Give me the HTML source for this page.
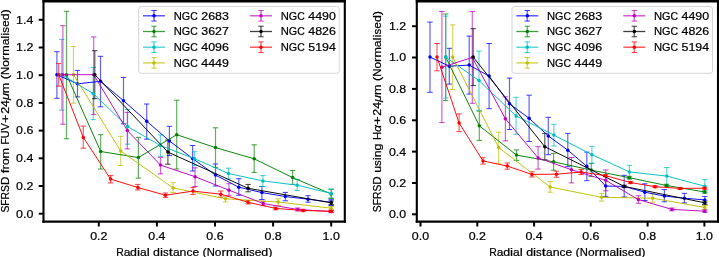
<!DOCTYPE html>
<html><head><meta charset="utf-8"><style>html,body{margin:0;padding:0;background:#fff;width:719px;height:257px;overflow:hidden}svg{display:block;will-change:transform}</style></head><body>
<svg width="719" height="257" viewBox="0 0 719 257" font-family='"Liberation Sans", sans-serif' fill="#000">
<style>text{stroke:#000;stroke-width:0.22px;}</style>
<rect width="719" height="257" fill="#fff"/>
<defs><clipPath id="cp43"><rect x="43.5" y="1.2" width="301.3" height="220.5"/></clipPath></defs>
<g clip-path="url(#cp43)">
<path d="M56.9 51.7V98.3M77.5 70.4V96.9M100.5 56.3V106.8M123.5 77.6V123.8M146.7 104.0V139.2M169.4 126.3V155.6M192.6 145.5V171.0M215.5 164.0V186.0M238.8 178.7V195.3M261.9 186.5V199.5M285.3 192.4V200.8M308.0 195.7V202.2M331.2 199.7V205.5" stroke="#0000ff" stroke-width="1.2" stroke-opacity="0.62" fill="none"/>
<path d="M54.2 51.7H59.6M54.2 98.3H59.6M74.8 70.4H80.2M74.8 96.9H80.2M97.8 56.3H103.2M97.8 106.8H103.2M120.8 77.6H126.2M120.8 123.8H126.2M144.0 104.0H149.4M144.0 139.2H149.4M166.7 126.3H172.1M166.7 155.6H172.1M189.9 145.5H195.3M189.9 171.0H195.3M212.8 164.0H218.2M212.8 186.0H218.2M236.1 178.7H241.5M236.1 195.3H241.5M259.2 186.5H264.6M259.2 199.5H264.6M282.6 192.4H288.0M282.6 200.8H288.0M305.3 195.7H310.7M305.3 202.2H310.7M328.5 199.7H333.9M328.5 205.5H333.9" stroke="#0000ff" stroke-width="1.0" stroke-opacity="0.75" fill="none"/>
<path d="M66.5 11.3V138.8M100.7 134.7V169.0M138.4 137.3V178.1M176.7 100.2V169.0M215.5 127.8V167.4M254.2 144.8V172.4M292.6 170.5V184.4M331.2 189.3V198.5" stroke="#008000" stroke-width="1.2" stroke-opacity="0.62" fill="none"/>
<path d="M63.8 11.3H69.2M63.8 138.8H69.2M98.0 134.7H103.4M98.0 169.0H103.4M135.7 137.3H141.1M135.7 178.1H141.1M174.0 100.2H179.4M174.0 169.0H179.4M212.8 127.8H218.2M212.8 167.4H218.2M251.5 144.8H256.9M251.5 172.4H256.9M289.9 170.5H295.3M289.9 184.4H295.3M328.5 189.3H333.9M328.5 198.5H333.9" stroke="#008000" stroke-width="1.0" stroke-opacity="0.75" fill="none"/>
<path d="M61.7 39.4V110.2M93.2 67.4V119.7M127.6 109.5V144.2M160.5 134.9V156.3M194.5 151.7V165.7M228.5 168.2V178.8M262.9 175.6V186.4M297.2 179.5V190.5M331.2 189.0V197.8" stroke="#00bfbf" stroke-width="1.2" stroke-opacity="0.62" fill="none"/>
<path d="M59.0 39.4H64.4M59.0 110.2H64.4M90.5 67.4H95.9M90.5 119.7H95.9M124.9 109.5H130.3M124.9 144.2H130.3M157.8 134.9H163.2M157.8 156.3H163.2M191.8 151.7H197.2M191.8 165.7H197.2M225.8 168.2H231.2M225.8 178.8H231.2M260.2 175.6H265.6M260.2 186.4H265.6M294.5 179.5H299.9M294.5 190.5H299.9M328.5 189.0H333.9M328.5 197.8H333.9" stroke="#00bfbf" stroke-width="1.0" stroke-opacity="0.75" fill="none"/>
<path d="M73.5 46.5V103.2M120.7 136.3V165.5M173.1 182.7V192.5M225.5 196.2V201.9M278.2 198.8V205.4M331.2 206.5V210.0" stroke="#bfbf00" stroke-width="1.2" stroke-opacity="0.62" fill="none"/>
<path d="M70.8 46.5H76.2M70.8 103.2H76.2M118.0 136.3H123.4M118.0 165.5H123.4M170.4 182.7H175.8M170.4 192.5H175.8M222.8 196.2H228.2M222.8 201.9H228.2M275.5 198.8H280.9M275.5 205.4H280.9M328.5 206.5H333.9M328.5 210.0H333.9" stroke="#bfbf00" stroke-width="1.0" stroke-opacity="0.75" fill="none"/>
<path d="M62.9 25.7V124.2M93.7 36.9V114.4M127.3 112.3V148.9M160.5 157.3V173.9M195.1 167.8V186.5M229.0 183.7V195.3M263.3 201.3V205.7M297.7 208.0V211.0M331.2 210.3V212.7" stroke="#bf00bf" stroke-width="1.2" stroke-opacity="0.62" fill="none"/>
<path d="M60.2 25.7H65.6M60.2 124.2H65.6M91.0 36.9H96.4M91.0 114.4H96.4M124.6 112.3H130.0M124.6 148.9H130.0M157.8 157.3H163.2M157.8 173.9H163.2M192.4 167.8H197.8M192.4 186.5H197.8M226.3 183.7H231.7M226.3 195.3H231.7M260.6 201.3H266.0M260.6 205.7H266.0M295.0 208.0H300.4M295.0 211.0H300.4M328.5 210.3H333.9M328.5 212.7H333.9" stroke="#bf00bf" stroke-width="1.0" stroke-opacity="0.75" fill="none"/>
<path d="M94.8 50.7V98.7M167.9 140.0V164.2M248.1 184.4V191.8M331.2 201.0V204.6" stroke="#000000" stroke-width="1.2" stroke-opacity="0.62" fill="none"/>
<path d="M92.1 50.7H97.5M92.1 98.7H97.5M165.2 140.0H170.6M165.2 164.2H170.6M245.4 184.4H250.8M245.4 191.8H250.8M328.5 201.0H333.9M328.5 204.6H333.9" stroke="#000000" stroke-width="1.0" stroke-opacity="0.75" fill="none"/>
<path d="M58.7 63.4V86.2M83.3 126.1V148.2M110.6 175.6V183.0M137.8 184.4V190.0M165.4 193.0V197.4M193.0 187.4V194.4M220.8 191.0V197.2M248.1 200.5V204.0M275.7 207.0V209.8M303.2 209.3V211.7M331.2 210.3V212.3" stroke="#ff0000" stroke-width="1.2" stroke-opacity="0.62" fill="none"/>
<path d="M56.0 63.4H61.4M56.0 86.2H61.4M80.6 126.1H86.0M80.6 148.2H86.0M107.9 175.6H113.3M107.9 183.0H113.3M135.1 184.4H140.5M135.1 190.0H140.5M162.7 193.0H168.1M162.7 197.4H168.1M190.3 187.4H195.7M190.3 194.4H195.7M218.1 191.0H223.5M218.1 197.2H223.5M245.4 200.5H250.8M245.4 204.0H250.8M273.0 207.0H278.4M273.0 209.8H278.4M300.5 209.3H305.9M300.5 211.7H305.9M328.5 210.3H333.9M328.5 212.3H333.9" stroke="#ff0000" stroke-width="1.0" stroke-opacity="0.75" fill="none"/>
<polyline points="56.9,74.7 77.5,83.8 100.5,81.3 123.5,100.7 146.7,121.2 169.4,140.9 192.6,158.5 215.5,175.1 238.8,187.2 261.9,192.6 285.3,196.5 308.0,199.2 331.2,202.3" stroke="#0000ff" stroke-width="0.95" fill="none" stroke-linejoin="round"/>
<circle cx="56.9" cy="74.7" r="1.75" fill="#0000ff"/>
<circle cx="77.5" cy="83.8" r="1.75" fill="#0000ff"/>
<circle cx="100.5" cy="81.3" r="1.75" fill="#0000ff"/>
<circle cx="123.5" cy="100.7" r="1.75" fill="#0000ff"/>
<circle cx="146.7" cy="121.2" r="1.75" fill="#0000ff"/>
<circle cx="169.4" cy="140.9" r="1.75" fill="#0000ff"/>
<circle cx="192.6" cy="158.5" r="1.75" fill="#0000ff"/>
<circle cx="215.5" cy="175.1" r="1.75" fill="#0000ff"/>
<circle cx="238.8" cy="187.2" r="1.75" fill="#0000ff"/>
<circle cx="261.9" cy="192.6" r="1.75" fill="#0000ff"/>
<circle cx="285.3" cy="196.5" r="1.75" fill="#0000ff"/>
<circle cx="308.0" cy="199.2" r="1.75" fill="#0000ff"/>
<circle cx="331.2" cy="202.3" r="1.75" fill="#0000ff"/>
<polyline points="66.5,74.7 100.7,151.5 138.4,157.6 176.7,134.7 215.5,147.6 254.2,158.8 292.6,177.6 331.2,194.0" stroke="#008000" stroke-width="0.95" fill="none" stroke-linejoin="round"/>
<circle cx="66.5" cy="74.7" r="1.75" fill="#008000"/>
<circle cx="100.7" cy="151.5" r="1.75" fill="#008000"/>
<circle cx="138.4" cy="157.6" r="1.75" fill="#008000"/>
<circle cx="176.7" cy="134.7" r="1.75" fill="#008000"/>
<circle cx="215.5" cy="147.6" r="1.75" fill="#008000"/>
<circle cx="254.2" cy="158.8" r="1.75" fill="#008000"/>
<circle cx="292.6" cy="177.6" r="1.75" fill="#008000"/>
<circle cx="331.2" cy="194.0" r="1.75" fill="#008000"/>
<polyline points="61.7,74.7 93.2,93.5 127.6,126.6 160.5,145.6 194.5,158.7 228.5,173.5 262.9,180.9 297.2,185.2 331.2,193.4" stroke="#00bfbf" stroke-width="0.95" fill="none" stroke-linejoin="round"/>
<circle cx="61.7" cy="74.7" r="1.75" fill="#00bfbf"/>
<circle cx="93.2" cy="93.5" r="1.75" fill="#00bfbf"/>
<circle cx="127.6" cy="126.6" r="1.75" fill="#00bfbf"/>
<circle cx="160.5" cy="145.6" r="1.75" fill="#00bfbf"/>
<circle cx="194.5" cy="158.7" r="1.75" fill="#00bfbf"/>
<circle cx="228.5" cy="173.5" r="1.75" fill="#00bfbf"/>
<circle cx="262.9" cy="180.9" r="1.75" fill="#00bfbf"/>
<circle cx="297.2" cy="185.2" r="1.75" fill="#00bfbf"/>
<circle cx="331.2" cy="193.4" r="1.75" fill="#00bfbf"/>
<polyline points="73.5,74.7 120.7,151.0 173.1,187.9 225.5,198.8 278.2,202.0 331.2,208.2" stroke="#bfbf00" stroke-width="0.95" fill="none" stroke-linejoin="round"/>
<circle cx="73.5" cy="74.7" r="1.75" fill="#bfbf00"/>
<circle cx="120.7" cy="151.0" r="1.75" fill="#bfbf00"/>
<circle cx="173.1" cy="187.9" r="1.75" fill="#bfbf00"/>
<circle cx="225.5" cy="198.8" r="1.75" fill="#bfbf00"/>
<circle cx="278.2" cy="202.0" r="1.75" fill="#bfbf00"/>
<circle cx="331.2" cy="208.2" r="1.75" fill="#bfbf00"/>
<polyline points="62.9,74.7 93.7,74.7 127.3,130.5 160.5,165.1 195.1,176.7 229.0,190.2 263.3,203.5 297.7,209.5 331.2,211.5" stroke="#bf00bf" stroke-width="0.95" fill="none" stroke-linejoin="round"/>
<circle cx="62.9" cy="74.7" r="1.75" fill="#bf00bf"/>
<circle cx="93.7" cy="74.7" r="1.75" fill="#bf00bf"/>
<circle cx="127.3" cy="130.5" r="1.75" fill="#bf00bf"/>
<circle cx="160.5" cy="165.1" r="1.75" fill="#bf00bf"/>
<circle cx="195.1" cy="176.7" r="1.75" fill="#bf00bf"/>
<circle cx="229.0" cy="190.2" r="1.75" fill="#bf00bf"/>
<circle cx="263.3" cy="203.5" r="1.75" fill="#bf00bf"/>
<circle cx="297.7" cy="209.5" r="1.75" fill="#bf00bf"/>
<circle cx="331.2" cy="211.5" r="1.75" fill="#bf00bf"/>
<polyline points="94.8,74.7 167.9,152.1 248.1,188.3 331.2,202.8" stroke="#000000" stroke-width="0.95" fill="none" stroke-linejoin="round"/>
<circle cx="94.8" cy="74.7" r="1.75" fill="#000000"/>
<circle cx="167.9" cy="152.1" r="1.75" fill="#000000"/>
<circle cx="248.1" cy="188.3" r="1.75" fill="#000000"/>
<circle cx="331.2" cy="202.8" r="1.75" fill="#000000"/>
<polyline points="58.7,74.7 83.3,137.4 110.6,179.1 137.8,187.5 165.4,195.2 193.0,191.1 220.8,194.2 248.1,202.3 275.7,208.4 303.2,210.5 331.2,211.3" stroke="#ff0000" stroke-width="0.95" fill="none" stroke-linejoin="round"/>
<circle cx="58.7" cy="74.7" r="1.75" fill="#ff0000"/>
<circle cx="83.3" cy="137.4" r="1.75" fill="#ff0000"/>
<circle cx="110.6" cy="179.1" r="1.75" fill="#ff0000"/>
<circle cx="137.8" cy="187.5" r="1.75" fill="#ff0000"/>
<circle cx="165.4" cy="195.2" r="1.75" fill="#ff0000"/>
<circle cx="193.0" cy="191.1" r="1.75" fill="#ff0000"/>
<circle cx="220.8" cy="194.2" r="1.75" fill="#ff0000"/>
<circle cx="248.1" cy="202.3" r="1.75" fill="#ff0000"/>
<circle cx="275.7" cy="208.4" r="1.75" fill="#ff0000"/>
<circle cx="303.2" cy="210.5" r="1.75" fill="#ff0000"/>
<circle cx="331.2" cy="211.3" r="1.75" fill="#ff0000"/>
</g>
<rect x="138.7" y="6.6" width="200.5" height="66.7" rx="2.5" fill="#fff" fill-opacity="0.8" stroke="#d4d4d4" stroke-width="1"/>
<path d="M143.0 15.8H165.0" stroke="#0000ff" stroke-width="1.3" stroke-opacity="0.75"/>
<path d="M154.0 10.5V21.1" stroke="#0000ff" stroke-width="1.6" stroke-opacity="0.55" fill="none"/>
<path d="M151.3 10.5H156.7M151.3 21.1H156.7" stroke="#0000ff" stroke-width="1.0" stroke-opacity="0.75" fill="none"/>
<circle cx="154.0" cy="15.8" r="1.75" fill="#0000ff"/>
<g><text transform="translate(173.70 19.70) translate(0.00 0) scale(0.969 1)" font-size="11.60">N</text><text transform="translate(173.70 19.70) translate(8.12 0) scale(0.932 1)" font-size="11.60">G</text><text transform="translate(173.70 19.70) translate(16.52 0) scale(0.904 1)" font-size="11.60">C</text><text transform="translate(173.70 19.70) translate(27.55 0) scale(1.070 1)" font-size="11.60">2</text><text transform="translate(173.70 19.70) translate(34.45 0) scale(1.070 1)" font-size="11.60">6</text><text transform="translate(173.70 19.70) translate(41.36 0) scale(1.070 1)" font-size="11.60">8</text><text transform="translate(173.70 19.70) translate(48.26 0) scale(1.070 1)" font-size="11.60">3</text></g>
<path d="M143.0 31.5H165.0" stroke="#008000" stroke-width="1.3" stroke-opacity="0.75"/>
<path d="M154.0 26.2V36.8" stroke="#008000" stroke-width="1.6" stroke-opacity="0.55" fill="none"/>
<path d="M151.3 26.2H156.7M151.3 36.8H156.7" stroke="#008000" stroke-width="1.0" stroke-opacity="0.75" fill="none"/>
<circle cx="154.0" cy="31.5" r="1.75" fill="#008000"/>
<g><text transform="translate(173.70 35.40) translate(0.00 0) scale(0.969 1)" font-size="11.60">N</text><text transform="translate(173.70 35.40) translate(8.12 0) scale(0.932 1)" font-size="11.60">G</text><text transform="translate(173.70 35.40) translate(16.52 0) scale(0.904 1)" font-size="11.60">C</text><text transform="translate(173.70 35.40) translate(27.55 0) scale(1.070 1)" font-size="11.60">3</text><text transform="translate(173.70 35.40) translate(34.45 0) scale(1.070 1)" font-size="11.60">6</text><text transform="translate(173.70 35.40) translate(41.36 0) scale(1.070 1)" font-size="11.60">2</text><text transform="translate(173.70 35.40) translate(48.26 0) scale(1.070 1)" font-size="11.60">7</text></g>
<path d="M143.0 47.2H165.0" stroke="#00bfbf" stroke-width="1.3" stroke-opacity="0.75"/>
<path d="M154.0 41.9V52.5" stroke="#00bfbf" stroke-width="1.6" stroke-opacity="0.55" fill="none"/>
<path d="M151.3 41.9H156.7M151.3 52.5H156.7" stroke="#00bfbf" stroke-width="1.0" stroke-opacity="0.75" fill="none"/>
<circle cx="154.0" cy="47.2" r="1.75" fill="#00bfbf"/>
<g><text transform="translate(173.70 51.10) translate(0.00 0) scale(0.969 1)" font-size="11.60">N</text><text transform="translate(173.70 51.10) translate(8.12 0) scale(0.932 1)" font-size="11.60">G</text><text transform="translate(173.70 51.10) translate(16.52 0) scale(0.904 1)" font-size="11.60">C</text><text transform="translate(173.70 51.10) translate(27.55 0) scale(1.070 1)" font-size="11.60">4</text><text transform="translate(173.70 51.10) translate(34.45 0) scale(1.070 1)" font-size="11.60">0</text><text transform="translate(173.70 51.10) translate(41.36 0) scale(1.070 1)" font-size="11.60">9</text><text transform="translate(173.70 51.10) translate(48.26 0) scale(1.070 1)" font-size="11.60">6</text></g>
<path d="M143.0 62.9H165.0" stroke="#bfbf00" stroke-width="1.3" stroke-opacity="0.75"/>
<path d="M154.0 57.6V68.2" stroke="#bfbf00" stroke-width="1.6" stroke-opacity="0.55" fill="none"/>
<path d="M151.3 57.6H156.7M151.3 68.2H156.7" stroke="#bfbf00" stroke-width="1.0" stroke-opacity="0.75" fill="none"/>
<circle cx="154.0" cy="62.9" r="1.75" fill="#bfbf00"/>
<g><text transform="translate(173.70 66.80) translate(0.00 0) scale(0.969 1)" font-size="11.60">N</text><text transform="translate(173.70 66.80) translate(8.12 0) scale(0.932 1)" font-size="11.60">G</text><text transform="translate(173.70 66.80) translate(16.52 0) scale(0.904 1)" font-size="11.60">C</text><text transform="translate(173.70 66.80) translate(27.55 0) scale(1.070 1)" font-size="11.60">4</text><text transform="translate(173.70 66.80) translate(34.45 0) scale(1.070 1)" font-size="11.60">4</text><text transform="translate(173.70 66.80) translate(41.36 0) scale(1.070 1)" font-size="11.60">4</text><text transform="translate(173.70 66.80) translate(48.26 0) scale(1.070 1)" font-size="11.60">9</text></g>
<path d="M250.0 15.8H272.0" stroke="#bf00bf" stroke-width="1.3" stroke-opacity="0.75"/>
<path d="M261.0 10.5V21.1" stroke="#bf00bf" stroke-width="1.6" stroke-opacity="0.55" fill="none"/>
<path d="M258.3 10.5H263.7M258.3 21.1H263.7" stroke="#bf00bf" stroke-width="1.0" stroke-opacity="0.75" fill="none"/>
<circle cx="261.0" cy="15.8" r="1.75" fill="#bf00bf"/>
<g><text transform="translate(280.70 19.70) translate(0.00 0) scale(0.969 1)" font-size="11.60">N</text><text transform="translate(280.70 19.70) translate(8.12 0) scale(0.932 1)" font-size="11.60">G</text><text transform="translate(280.70 19.70) translate(16.52 0) scale(0.904 1)" font-size="11.60">C</text><text transform="translate(280.70 19.70) translate(27.55 0) scale(1.070 1)" font-size="11.60">4</text><text transform="translate(280.70 19.70) translate(34.45 0) scale(1.070 1)" font-size="11.60">4</text><text transform="translate(280.70 19.70) translate(41.36 0) scale(1.070 1)" font-size="11.60">9</text><text transform="translate(280.70 19.70) translate(48.26 0) scale(1.070 1)" font-size="11.60">0</text></g>
<path d="M250.0 31.5H272.0" stroke="#000000" stroke-width="1.3" stroke-opacity="0.75"/>
<path d="M261.0 26.2V36.8" stroke="#000000" stroke-width="1.6" stroke-opacity="0.55" fill="none"/>
<path d="M258.3 26.2H263.7M258.3 36.8H263.7" stroke="#000000" stroke-width="1.0" stroke-opacity="0.75" fill="none"/>
<circle cx="261.0" cy="31.5" r="1.75" fill="#000000"/>
<g><text transform="translate(280.70 35.40) translate(0.00 0) scale(0.969 1)" font-size="11.60">N</text><text transform="translate(280.70 35.40) translate(8.12 0) scale(0.932 1)" font-size="11.60">G</text><text transform="translate(280.70 35.40) translate(16.52 0) scale(0.904 1)" font-size="11.60">C</text><text transform="translate(280.70 35.40) translate(27.55 0) scale(1.070 1)" font-size="11.60">4</text><text transform="translate(280.70 35.40) translate(34.45 0) scale(1.070 1)" font-size="11.60">8</text><text transform="translate(280.70 35.40) translate(41.36 0) scale(1.070 1)" font-size="11.60">2</text><text transform="translate(280.70 35.40) translate(48.26 0) scale(1.070 1)" font-size="11.60">6</text></g>
<path d="M250.0 47.2H272.0" stroke="#ff0000" stroke-width="1.3" stroke-opacity="0.75"/>
<path d="M261.0 41.9V52.5" stroke="#ff0000" stroke-width="1.6" stroke-opacity="0.55" fill="none"/>
<path d="M258.3 41.9H263.7M258.3 52.5H263.7" stroke="#ff0000" stroke-width="1.0" stroke-opacity="0.75" fill="none"/>
<circle cx="261.0" cy="47.2" r="1.75" fill="#ff0000"/>
<g><text transform="translate(280.70 51.10) translate(0.00 0) scale(0.969 1)" font-size="11.60">N</text><text transform="translate(280.70 51.10) translate(8.12 0) scale(0.932 1)" font-size="11.60">G</text><text transform="translate(280.70 51.10) translate(16.52 0) scale(0.904 1)" font-size="11.60">C</text><text transform="translate(280.70 51.10) translate(27.55 0) scale(1.070 1)" font-size="11.60">5</text><text transform="translate(280.70 51.10) translate(34.45 0) scale(1.070 1)" font-size="11.60">1</text><text transform="translate(280.70 51.10) translate(41.36 0) scale(1.070 1)" font-size="11.60">9</text><text transform="translate(280.70 51.10) translate(48.26 0) scale(1.070 1)" font-size="11.60">4</text></g>
<path d="M43.50 0V222.80M344.80 0V222.80" stroke="#000" stroke-width="2.1"/><path d="M42.45 1.2H345.85" stroke="#000" stroke-width="2.4"/><path d="M42.45 221.70H345.85" stroke="#000" stroke-width="2.2"/>
<line x1="38.7" y1="213.7" x2="43.5" y2="213.7" stroke="#000" stroke-width="2.0"/>
<g><text transform="translate(33.30 217.55) translate(-17.26 0) scale(1.070 1)" font-size="11.60">0</text><text transform="translate(33.30 217.55) translate(-10.35 0) scale(1.070 1)" font-size="11.60">.</text><text transform="translate(33.30 217.55) translate(-6.90 0) scale(1.070 1)" font-size="11.60">0</text></g>
<line x1="38.7" y1="186.0" x2="43.5" y2="186.0" stroke="#000" stroke-width="2.0"/>
<g><text transform="translate(33.30 189.86) translate(-17.26 0) scale(1.070 1)" font-size="11.60">0</text><text transform="translate(33.30 189.86) translate(-10.35 0) scale(1.070 1)" font-size="11.60">.</text><text transform="translate(33.30 189.86) translate(-6.90 0) scale(1.070 1)" font-size="11.60">2</text></g>
<line x1="38.7" y1="158.3" x2="43.5" y2="158.3" stroke="#000" stroke-width="2.0"/>
<g><text transform="translate(33.30 162.17) translate(-17.26 0) scale(1.070 1)" font-size="11.60">0</text><text transform="translate(33.30 162.17) translate(-10.35 0) scale(1.070 1)" font-size="11.60">.</text><text transform="translate(33.30 162.17) translate(-6.90 0) scale(1.070 1)" font-size="11.60">4</text></g>
<line x1="38.7" y1="130.6" x2="43.5" y2="130.6" stroke="#000" stroke-width="2.0"/>
<g><text transform="translate(33.30 134.48) translate(-17.26 0) scale(1.070 1)" font-size="11.60">0</text><text transform="translate(33.30 134.48) translate(-10.35 0) scale(1.070 1)" font-size="11.60">.</text><text transform="translate(33.30 134.48) translate(-6.90 0) scale(1.070 1)" font-size="11.60">6</text></g>
<line x1="38.7" y1="102.9" x2="43.5" y2="102.9" stroke="#000" stroke-width="2.0"/>
<g><text transform="translate(33.30 106.79) translate(-17.26 0) scale(1.070 1)" font-size="11.60">0</text><text transform="translate(33.30 106.79) translate(-10.35 0) scale(1.070 1)" font-size="11.60">.</text><text transform="translate(33.30 106.79) translate(-6.90 0) scale(1.070 1)" font-size="11.60">8</text></g>
<line x1="38.7" y1="75.2" x2="43.5" y2="75.2" stroke="#000" stroke-width="2.0"/>
<g><text transform="translate(33.30 79.10) translate(-17.26 0) scale(1.070 1)" font-size="11.60">1</text><text transform="translate(33.30 79.10) translate(-10.35 0) scale(1.070 1)" font-size="11.60">.</text><text transform="translate(33.30 79.10) translate(-6.90 0) scale(1.070 1)" font-size="11.60">0</text></g>
<line x1="38.7" y1="47.5" x2="43.5" y2="47.5" stroke="#000" stroke-width="2.0"/>
<g><text transform="translate(33.30 51.41) translate(-17.26 0) scale(1.070 1)" font-size="11.60">1</text><text transform="translate(33.30 51.41) translate(-10.35 0) scale(1.070 1)" font-size="11.60">.</text><text transform="translate(33.30 51.41) translate(-6.90 0) scale(1.070 1)" font-size="11.60">2</text></g>
<line x1="38.7" y1="19.8" x2="43.5" y2="19.8" stroke="#000" stroke-width="2.0"/>
<g><text transform="translate(33.30 23.72) translate(-17.26 0) scale(1.070 1)" font-size="11.60">1</text><text transform="translate(33.30 23.72) translate(-10.35 0) scale(1.070 1)" font-size="11.60">.</text><text transform="translate(33.30 23.72) translate(-6.90 0) scale(1.070 1)" font-size="11.60">4</text></g>
<line x1="98.8" y1="221.7" x2="98.8" y2="226.5" stroke="#000" stroke-width="2.0"/>
<g><text transform="translate(98.80 240.00) translate(-8.63 0) scale(1.070 1)" font-size="11.60">0</text><text transform="translate(98.80 240.00) translate(-1.72 0) scale(1.070 1)" font-size="11.60">.</text><text transform="translate(98.80 240.00) translate(1.72 0) scale(1.070 1)" font-size="11.60">2</text></g>
<line x1="156.9" y1="221.7" x2="156.9" y2="226.5" stroke="#000" stroke-width="2.0"/>
<g><text transform="translate(156.90 240.00) translate(-8.63 0) scale(1.070 1)" font-size="11.60">0</text><text transform="translate(156.90 240.00) translate(-1.72 0) scale(1.070 1)" font-size="11.60">.</text><text transform="translate(156.90 240.00) translate(1.72 0) scale(1.070 1)" font-size="11.60">4</text></g>
<line x1="215.0" y1="221.7" x2="215.0" y2="226.5" stroke="#000" stroke-width="2.0"/>
<g><text transform="translate(215.00 240.00) translate(-8.63 0) scale(1.070 1)" font-size="11.60">0</text><text transform="translate(215.00 240.00) translate(-1.72 0) scale(1.070 1)" font-size="11.60">.</text><text transform="translate(215.00 240.00) translate(1.72 0) scale(1.070 1)" font-size="11.60">6</text></g>
<line x1="273.1" y1="221.7" x2="273.1" y2="226.5" stroke="#000" stroke-width="2.0"/>
<g><text transform="translate(273.10 240.00) translate(-8.63 0) scale(1.070 1)" font-size="11.60">0</text><text transform="translate(273.10 240.00) translate(-1.72 0) scale(1.070 1)" font-size="11.60">.</text><text transform="translate(273.10 240.00) translate(1.72 0) scale(1.070 1)" font-size="11.60">8</text></g>
<line x1="331.2" y1="221.7" x2="331.2" y2="226.5" stroke="#000" stroke-width="2.0"/>
<g><text transform="translate(331.20 240.00) translate(-8.63 0) scale(1.070 1)" font-size="11.60">1</text><text transform="translate(331.20 240.00) translate(-1.72 0) scale(1.070 1)" font-size="11.60">.</text><text transform="translate(331.20 240.00) translate(1.72 0) scale(1.070 1)" font-size="11.60">0</text></g>
<defs><clipPath id="cp416"><rect x="416.8" y="1.2" width="301.2" height="220.5"/></clipPath></defs>
<g clip-path="url(#cp416)">
<path d="M430.0 22.1V92.3M449.3 48.3V84.1M469.2 36.1V94.1M489.1 43.5V108.7M509.5 78.1V129.5M529.1 95.2V141.5M548.3 117.3V154.7M567.8 133.4V166.7M586.8 152.1V180.7M605.7 176.5V196.4M624.2 175.3V197.0M644.8 183.8V200.5M664.4 189.6V201.8M684.4 193.3V202.9M704.8 196.4V202.9" stroke="#0000ff" stroke-width="1.2" stroke-opacity="0.62" fill="none"/>
<path d="M427.3 22.1H432.7M427.3 92.3H432.7M446.6 48.3H452.0M446.6 84.1H452.0M466.5 36.1H471.9M466.5 94.1H471.9M486.4 43.5H491.8M486.4 108.7H491.8M506.8 78.1H512.2M506.8 129.5H512.2M526.4 95.2H531.8M526.4 141.5H531.8M545.6 117.3H551.0M545.6 154.7H551.0M565.1 133.4H570.5M565.1 166.7H570.5M584.1 152.1H589.5M584.1 180.7H589.5M603.0 176.5H608.4M603.0 196.4H608.4M621.5 175.3H626.9M621.5 197.0H626.9M642.1 183.8H647.5M642.1 200.5H647.5M661.7 189.6H667.1M661.7 201.8H667.1M681.7 193.3H687.1M681.7 202.9H687.1M702.1 196.4H707.5M702.1 202.9H707.5" stroke="#0000ff" stroke-width="1.0" stroke-opacity="0.75" fill="none"/>
<path d="M445.7 14.0V100.6M479.3 111.1V140.4M516.5 149.9V160.4M553.6 153.3V170.2M591.3 163.6V176.6M629.3 176.3V179.1M666.6 184.2V186.8M704.8 190.8V193.2" stroke="#008000" stroke-width="1.2" stroke-opacity="0.62" fill="none"/>
<path d="M443.0 14.0H448.4M443.0 100.6H448.4M476.6 111.1H482.0M476.6 140.4H482.0M513.8 149.9H519.2M513.8 160.4H519.2M550.9 153.3H556.3M550.9 170.2H556.3M588.6 163.6H594.0M588.6 176.6H594.0M626.6 176.3H632.0M626.6 179.1H632.0M663.9 184.2H669.3M663.9 186.8H669.3M702.1 190.8H707.5M702.1 193.2H707.5" stroke="#008000" stroke-width="1.0" stroke-opacity="0.75" fill="none"/>
<path d="M445.7 16.1V98.1M479.0 51.1V110.4M516.1 97.3V134.3M553.9 124.3V146.0M591.9 146.3V163.1M629.4 165.3V178.3M666.8 167.5V185.5M704.8 179.6V192.8" stroke="#00bfbf" stroke-width="1.2" stroke-opacity="0.62" fill="none"/>
<path d="M443.0 16.1H448.4M443.0 98.1H448.4M476.3 51.1H481.7M476.3 110.4H481.7M513.4 97.3H518.8M513.4 134.3H518.8M551.2 124.3H556.6M551.2 146.0H556.6M589.2 146.3H594.6M589.2 163.1H594.6M626.7 165.3H632.1M626.7 178.3H632.1M664.1 167.5H669.5M664.1 185.5H669.5M702.1 179.6H707.5M702.1 192.8H707.5" stroke="#00bfbf" stroke-width="1.0" stroke-opacity="0.75" fill="none"/>
<path d="M452.7 24.9V89.5M498.6 132.1V163.3M550.1 181.6V192.2M601.6 193.3V201.1M652.7 193.7V202.2M704.8 205.5V209.5" stroke="#bfbf00" stroke-width="1.2" stroke-opacity="0.62" fill="none"/>
<path d="M450.0 24.9H455.4M450.0 89.5H455.4M495.9 132.1H501.3M495.9 163.3H501.3M547.4 181.6H552.8M547.4 192.2H552.8M598.9 193.3H604.3M598.9 201.1H604.3M650.0 193.7H655.4M650.0 202.2H655.4M702.1 205.5H707.5M702.1 209.5H707.5" stroke="#bfbf00" stroke-width="1.0" stroke-opacity="0.75" fill="none"/>
<path d="M441.9 11.5V122.6M472.3 11.5V103.3M505.4 96.9V140.9M538.1 146.7V169.1M571.5 157.5V182.9M605.7 170.0V190.8M638.4 195.7V203.3M671.9 208.0V210.8M704.8 210.0V212.4" stroke="#bf00bf" stroke-width="1.2" stroke-opacity="0.62" fill="none"/>
<path d="M439.2 11.5H444.6M439.2 122.6H444.6M469.6 11.5H475.0M469.6 103.3H475.0M502.7 96.9H508.1M502.7 140.9H508.1M535.4 146.7H540.8M535.4 169.1H540.8M568.8 157.5H574.2M568.8 182.9H574.2M603.0 170.0H608.4M603.0 190.8H608.4M635.7 195.7H641.1M635.7 203.3H641.1M669.2 208.0H674.6M669.2 210.8H674.6M702.1 210.0H707.5M702.1 212.4H707.5" stroke="#bf00bf" stroke-width="1.0" stroke-opacity="0.75" fill="none"/>
<path d="M473.2 28.7V85.6M544.8 133.4V159.8M624.2 185.2V187.6M704.8 201.0V204.6" stroke="#000000" stroke-width="1.2" stroke-opacity="0.62" fill="none"/>
<path d="M470.5 28.7H475.9M470.5 85.6H475.9M542.1 133.4H547.5M542.1 159.8H547.5M621.5 185.2H626.9M621.5 187.6H626.9M702.1 201.0H707.5M702.1 204.6H707.5" stroke="#000000" stroke-width="1.0" stroke-opacity="0.75" fill="none"/>
<path d="M437.0 43.5V70.8M459.1 113.9V131.6M483.0 157.7V164.1M507.3 163.0V169.2M531.9 171.8V177.0M556.4 171.2V177.2M581.1 169.4V174.6M605.6 174.6V176.8M630.5 181.4V183.6M655.0 185.7V187.7M680.0 187.4V189.4M704.8 187.2V189.2" stroke="#ff0000" stroke-width="1.2" stroke-opacity="0.62" fill="none"/>
<path d="M434.3 43.5H439.7M434.3 70.8H439.7M456.4 113.9H461.8M456.4 131.6H461.8M480.3 157.7H485.7M480.3 164.1H485.7M504.6 163.0H510.0M504.6 169.2H510.0M529.2 171.8H534.6M529.2 177.0H534.6M553.7 171.2H559.1M553.7 177.2H559.1M578.4 169.4H583.8M578.4 174.6H583.8M602.9 174.6H608.3M602.9 176.8H608.3M627.8 181.4H633.2M627.8 183.6H633.2M652.3 185.7H657.7M652.3 187.7H657.7M677.3 187.4H682.7M677.3 189.4H682.7M702.1 187.2H707.5M702.1 189.2H707.5" stroke="#ff0000" stroke-width="1.0" stroke-opacity="0.75" fill="none"/>
<polyline points="430.0,57.1 449.3,66.2 469.2,65.1 489.1,76.1 509.5,103.8 529.1,118.3 548.3,135.9 567.8,150.2 586.8,166.3 605.7,186.0 624.2,186.4 644.8,192.2 664.4,196.1 684.4,198.2 704.8,199.9" stroke="#0000ff" stroke-width="0.95" fill="none" stroke-linejoin="round"/>
<circle cx="430.0" cy="57.1" r="1.75" fill="#0000ff"/>
<circle cx="449.3" cy="66.2" r="1.75" fill="#0000ff"/>
<circle cx="469.2" cy="65.1" r="1.75" fill="#0000ff"/>
<circle cx="489.1" cy="76.1" r="1.75" fill="#0000ff"/>
<circle cx="509.5" cy="103.8" r="1.75" fill="#0000ff"/>
<circle cx="529.1" cy="118.3" r="1.75" fill="#0000ff"/>
<circle cx="548.3" cy="135.9" r="1.75" fill="#0000ff"/>
<circle cx="567.8" cy="150.2" r="1.75" fill="#0000ff"/>
<circle cx="586.8" cy="166.3" r="1.75" fill="#0000ff"/>
<circle cx="605.7" cy="186.0" r="1.75" fill="#0000ff"/>
<circle cx="624.2" cy="186.4" r="1.75" fill="#0000ff"/>
<circle cx="644.8" cy="192.2" r="1.75" fill="#0000ff"/>
<circle cx="664.4" cy="196.1" r="1.75" fill="#0000ff"/>
<circle cx="684.4" cy="198.2" r="1.75" fill="#0000ff"/>
<circle cx="704.8" cy="199.9" r="1.75" fill="#0000ff"/>
<polyline points="445.7,57.1 479.3,125.8 516.5,155.1 553.6,161.8 591.3,170.1 629.3,177.7 666.6,185.5 704.8,192.0" stroke="#008000" stroke-width="0.95" fill="none" stroke-linejoin="round"/>
<circle cx="445.7" cy="57.1" r="1.75" fill="#008000"/>
<circle cx="479.3" cy="125.8" r="1.75" fill="#008000"/>
<circle cx="516.5" cy="155.1" r="1.75" fill="#008000"/>
<circle cx="553.6" cy="161.8" r="1.75" fill="#008000"/>
<circle cx="591.3" cy="170.1" r="1.75" fill="#008000"/>
<circle cx="629.3" cy="177.7" r="1.75" fill="#008000"/>
<circle cx="666.6" cy="185.5" r="1.75" fill="#008000"/>
<circle cx="704.8" cy="192.0" r="1.75" fill="#008000"/>
<polyline points="445.7,57.1 479.0,80.6 516.1,115.9 553.9,135.1 591.9,154.7 629.4,171.9 666.8,176.1 704.8,186.2" stroke="#00bfbf" stroke-width="0.95" fill="none" stroke-linejoin="round"/>
<circle cx="445.7" cy="57.1" r="1.75" fill="#00bfbf"/>
<circle cx="479.0" cy="80.6" r="1.75" fill="#00bfbf"/>
<circle cx="516.1" cy="115.9" r="1.75" fill="#00bfbf"/>
<circle cx="553.9" cy="135.1" r="1.75" fill="#00bfbf"/>
<circle cx="591.9" cy="154.7" r="1.75" fill="#00bfbf"/>
<circle cx="629.4" cy="171.9" r="1.75" fill="#00bfbf"/>
<circle cx="666.8" cy="176.1" r="1.75" fill="#00bfbf"/>
<circle cx="704.8" cy="186.2" r="1.75" fill="#00bfbf"/>
<polyline points="452.7,57.1 498.6,147.5 550.1,187.0 601.6,197.3 652.7,198.2 704.8,207.5" stroke="#bfbf00" stroke-width="0.95" fill="none" stroke-linejoin="round"/>
<circle cx="452.7" cy="57.1" r="1.75" fill="#bfbf00"/>
<circle cx="498.6" cy="147.5" r="1.75" fill="#bfbf00"/>
<circle cx="550.1" cy="187.0" r="1.75" fill="#bfbf00"/>
<circle cx="601.6" cy="197.3" r="1.75" fill="#bfbf00"/>
<circle cx="652.7" cy="198.2" r="1.75" fill="#bfbf00"/>
<circle cx="704.8" cy="207.5" r="1.75" fill="#bfbf00"/>
<polyline points="441.9,67.2 472.3,57.5 505.4,118.8 538.1,157.9 571.5,169.8 605.7,180.3 638.4,199.6 671.9,209.4 704.8,211.2" stroke="#bf00bf" stroke-width="0.95" fill="none" stroke-linejoin="round"/>
<circle cx="441.9" cy="67.2" r="1.75" fill="#bf00bf"/>
<circle cx="472.3" cy="57.5" r="1.75" fill="#bf00bf"/>
<circle cx="505.4" cy="118.8" r="1.75" fill="#bf00bf"/>
<circle cx="538.1" cy="157.9" r="1.75" fill="#bf00bf"/>
<circle cx="571.5" cy="169.8" r="1.75" fill="#bf00bf"/>
<circle cx="605.7" cy="180.3" r="1.75" fill="#bf00bf"/>
<circle cx="638.4" cy="199.6" r="1.75" fill="#bf00bf"/>
<circle cx="671.9" cy="209.4" r="1.75" fill="#bf00bf"/>
<circle cx="704.8" cy="211.2" r="1.75" fill="#bf00bf"/>
<polyline points="473.2,57.1 544.8,146.7 624.2,186.4 704.8,202.8" stroke="#000000" stroke-width="0.95" fill="none" stroke-linejoin="round"/>
<circle cx="473.2" cy="57.1" r="1.75" fill="#000000"/>
<circle cx="544.8" cy="146.7" r="1.75" fill="#000000"/>
<circle cx="624.2" cy="186.4" r="1.75" fill="#000000"/>
<circle cx="704.8" cy="202.8" r="1.75" fill="#000000"/>
<polyline points="437.0,57.1 459.1,123.0 483.0,160.9 507.3,166.1 531.9,174.4 556.4,174.2 581.1,172.0 605.6,175.7 630.5,182.5 655.0,186.7 680.0,188.4 704.8,188.2" stroke="#ff0000" stroke-width="0.95" fill="none" stroke-linejoin="round"/>
<circle cx="437.0" cy="57.1" r="1.75" fill="#ff0000"/>
<circle cx="459.1" cy="123.0" r="1.75" fill="#ff0000"/>
<circle cx="483.0" cy="160.9" r="1.75" fill="#ff0000"/>
<circle cx="507.3" cy="166.1" r="1.75" fill="#ff0000"/>
<circle cx="531.9" cy="174.4" r="1.75" fill="#ff0000"/>
<circle cx="556.4" cy="174.2" r="1.75" fill="#ff0000"/>
<circle cx="581.1" cy="172.0" r="1.75" fill="#ff0000"/>
<circle cx="605.6" cy="175.7" r="1.75" fill="#ff0000"/>
<circle cx="630.5" cy="182.5" r="1.75" fill="#ff0000"/>
<circle cx="655.0" cy="186.7" r="1.75" fill="#ff0000"/>
<circle cx="680.0" cy="188.4" r="1.75" fill="#ff0000"/>
<circle cx="704.8" cy="188.2" r="1.75" fill="#ff0000"/>
</g>
<rect x="512.0" y="6.6" width="200.5" height="66.7" rx="2.5" fill="#fff" fill-opacity="0.8" stroke="#d4d4d4" stroke-width="1"/>
<path d="M516.3 15.8H538.3" stroke="#0000ff" stroke-width="1.3" stroke-opacity="0.75"/>
<path d="M527.3 10.5V21.1" stroke="#0000ff" stroke-width="1.6" stroke-opacity="0.55" fill="none"/>
<path d="M524.6 10.5H530.0M524.6 21.1H530.0" stroke="#0000ff" stroke-width="1.0" stroke-opacity="0.75" fill="none"/>
<circle cx="527.3" cy="15.8" r="1.75" fill="#0000ff"/>
<g><text transform="translate(547.00 19.70) translate(0.00 0) scale(0.969 1)" font-size="11.60">N</text><text transform="translate(547.00 19.70) translate(8.12 0) scale(0.932 1)" font-size="11.60">G</text><text transform="translate(547.00 19.70) translate(16.52 0) scale(0.904 1)" font-size="11.60">C</text><text transform="translate(547.00 19.70) translate(27.55 0) scale(1.070 1)" font-size="11.60">2</text><text transform="translate(547.00 19.70) translate(34.45 0) scale(1.070 1)" font-size="11.60">6</text><text transform="translate(547.00 19.70) translate(41.36 0) scale(1.070 1)" font-size="11.60">8</text><text transform="translate(547.00 19.70) translate(48.26 0) scale(1.070 1)" font-size="11.60">3</text></g>
<path d="M516.3 31.5H538.3" stroke="#008000" stroke-width="1.3" stroke-opacity="0.75"/>
<path d="M527.3 26.2V36.8" stroke="#008000" stroke-width="1.6" stroke-opacity="0.55" fill="none"/>
<path d="M524.6 26.2H530.0M524.6 36.8H530.0" stroke="#008000" stroke-width="1.0" stroke-opacity="0.75" fill="none"/>
<circle cx="527.3" cy="31.5" r="1.75" fill="#008000"/>
<g><text transform="translate(547.00 35.40) translate(0.00 0) scale(0.969 1)" font-size="11.60">N</text><text transform="translate(547.00 35.40) translate(8.12 0) scale(0.932 1)" font-size="11.60">G</text><text transform="translate(547.00 35.40) translate(16.52 0) scale(0.904 1)" font-size="11.60">C</text><text transform="translate(547.00 35.40) translate(27.55 0) scale(1.070 1)" font-size="11.60">3</text><text transform="translate(547.00 35.40) translate(34.45 0) scale(1.070 1)" font-size="11.60">6</text><text transform="translate(547.00 35.40) translate(41.36 0) scale(1.070 1)" font-size="11.60">2</text><text transform="translate(547.00 35.40) translate(48.26 0) scale(1.070 1)" font-size="11.60">7</text></g>
<path d="M516.3 47.2H538.3" stroke="#00bfbf" stroke-width="1.3" stroke-opacity="0.75"/>
<path d="M527.3 41.9V52.5" stroke="#00bfbf" stroke-width="1.6" stroke-opacity="0.55" fill="none"/>
<path d="M524.6 41.9H530.0M524.6 52.5H530.0" stroke="#00bfbf" stroke-width="1.0" stroke-opacity="0.75" fill="none"/>
<circle cx="527.3" cy="47.2" r="1.75" fill="#00bfbf"/>
<g><text transform="translate(547.00 51.10) translate(0.00 0) scale(0.969 1)" font-size="11.60">N</text><text transform="translate(547.00 51.10) translate(8.12 0) scale(0.932 1)" font-size="11.60">G</text><text transform="translate(547.00 51.10) translate(16.52 0) scale(0.904 1)" font-size="11.60">C</text><text transform="translate(547.00 51.10) translate(27.55 0) scale(1.070 1)" font-size="11.60">4</text><text transform="translate(547.00 51.10) translate(34.45 0) scale(1.070 1)" font-size="11.60">0</text><text transform="translate(547.00 51.10) translate(41.36 0) scale(1.070 1)" font-size="11.60">9</text><text transform="translate(547.00 51.10) translate(48.26 0) scale(1.070 1)" font-size="11.60">6</text></g>
<path d="M516.3 62.9H538.3" stroke="#bfbf00" stroke-width="1.3" stroke-opacity="0.75"/>
<path d="M527.3 57.6V68.2" stroke="#bfbf00" stroke-width="1.6" stroke-opacity="0.55" fill="none"/>
<path d="M524.6 57.6H530.0M524.6 68.2H530.0" stroke="#bfbf00" stroke-width="1.0" stroke-opacity="0.75" fill="none"/>
<circle cx="527.3" cy="62.9" r="1.75" fill="#bfbf00"/>
<g><text transform="translate(547.00 66.80) translate(0.00 0) scale(0.969 1)" font-size="11.60">N</text><text transform="translate(547.00 66.80) translate(8.12 0) scale(0.932 1)" font-size="11.60">G</text><text transform="translate(547.00 66.80) translate(16.52 0) scale(0.904 1)" font-size="11.60">C</text><text transform="translate(547.00 66.80) translate(27.55 0) scale(1.070 1)" font-size="11.60">4</text><text transform="translate(547.00 66.80) translate(34.45 0) scale(1.070 1)" font-size="11.60">4</text><text transform="translate(547.00 66.80) translate(41.36 0) scale(1.070 1)" font-size="11.60">4</text><text transform="translate(547.00 66.80) translate(48.26 0) scale(1.070 1)" font-size="11.60">9</text></g>
<path d="M623.3 15.8H645.3" stroke="#bf00bf" stroke-width="1.3" stroke-opacity="0.75"/>
<path d="M634.3 10.5V21.1" stroke="#bf00bf" stroke-width="1.6" stroke-opacity="0.55" fill="none"/>
<path d="M631.6 10.5H637.0M631.6 21.1H637.0" stroke="#bf00bf" stroke-width="1.0" stroke-opacity="0.75" fill="none"/>
<circle cx="634.3" cy="15.8" r="1.75" fill="#bf00bf"/>
<g><text transform="translate(654.00 19.70) translate(0.00 0) scale(0.969 1)" font-size="11.60">N</text><text transform="translate(654.00 19.70) translate(8.12 0) scale(0.932 1)" font-size="11.60">G</text><text transform="translate(654.00 19.70) translate(16.52 0) scale(0.904 1)" font-size="11.60">C</text><text transform="translate(654.00 19.70) translate(27.55 0) scale(1.070 1)" font-size="11.60">4</text><text transform="translate(654.00 19.70) translate(34.45 0) scale(1.070 1)" font-size="11.60">4</text><text transform="translate(654.00 19.70) translate(41.36 0) scale(1.070 1)" font-size="11.60">9</text><text transform="translate(654.00 19.70) translate(48.26 0) scale(1.070 1)" font-size="11.60">0</text></g>
<path d="M623.3 31.5H645.3" stroke="#000000" stroke-width="1.3" stroke-opacity="0.75"/>
<path d="M634.3 26.2V36.8" stroke="#000000" stroke-width="1.6" stroke-opacity="0.55" fill="none"/>
<path d="M631.6 26.2H637.0M631.6 36.8H637.0" stroke="#000000" stroke-width="1.0" stroke-opacity="0.75" fill="none"/>
<circle cx="634.3" cy="31.5" r="1.75" fill="#000000"/>
<g><text transform="translate(654.00 35.40) translate(0.00 0) scale(0.969 1)" font-size="11.60">N</text><text transform="translate(654.00 35.40) translate(8.12 0) scale(0.932 1)" font-size="11.60">G</text><text transform="translate(654.00 35.40) translate(16.52 0) scale(0.904 1)" font-size="11.60">C</text><text transform="translate(654.00 35.40) translate(27.55 0) scale(1.070 1)" font-size="11.60">4</text><text transform="translate(654.00 35.40) translate(34.45 0) scale(1.070 1)" font-size="11.60">8</text><text transform="translate(654.00 35.40) translate(41.36 0) scale(1.070 1)" font-size="11.60">2</text><text transform="translate(654.00 35.40) translate(48.26 0) scale(1.070 1)" font-size="11.60">6</text></g>
<path d="M623.3 47.2H645.3" stroke="#ff0000" stroke-width="1.3" stroke-opacity="0.75"/>
<path d="M634.3 41.9V52.5" stroke="#ff0000" stroke-width="1.6" stroke-opacity="0.55" fill="none"/>
<path d="M631.6 41.9H637.0M631.6 52.5H637.0" stroke="#ff0000" stroke-width="1.0" stroke-opacity="0.75" fill="none"/>
<circle cx="634.3" cy="47.2" r="1.75" fill="#ff0000"/>
<g><text transform="translate(654.00 51.10) translate(0.00 0) scale(0.969 1)" font-size="11.60">N</text><text transform="translate(654.00 51.10) translate(8.12 0) scale(0.932 1)" font-size="11.60">G</text><text transform="translate(654.00 51.10) translate(16.52 0) scale(0.904 1)" font-size="11.60">C</text><text transform="translate(654.00 51.10) translate(27.55 0) scale(1.070 1)" font-size="11.60">5</text><text transform="translate(654.00 51.10) translate(34.45 0) scale(1.070 1)" font-size="11.60">1</text><text transform="translate(654.00 51.10) translate(41.36 0) scale(1.070 1)" font-size="11.60">9</text><text transform="translate(654.00 51.10) translate(48.26 0) scale(1.070 1)" font-size="11.60">4</text></g>
<path d="M416.80 0V222.80M718.00 0V222.80" stroke="#000" stroke-width="2.1"/><path d="M415.75 1.2H719.05" stroke="#000" stroke-width="2.4"/><path d="M415.75 221.70H719.05" stroke="#000" stroke-width="2.2"/>
<line x1="412.0" y1="214.3" x2="416.8" y2="214.3" stroke="#000" stroke-width="2.0"/>
<g><text transform="translate(406.20 218.25) translate(-17.26 0) scale(1.070 1)" font-size="11.60">0</text><text transform="translate(406.20 218.25) translate(-10.35 0) scale(1.070 1)" font-size="11.60">.</text><text transform="translate(406.20 218.25) translate(-6.90 0) scale(1.070 1)" font-size="11.60">0</text></g>
<line x1="412.0" y1="183.0" x2="416.8" y2="183.0" stroke="#000" stroke-width="2.0"/>
<g><text transform="translate(406.20 186.89) translate(-17.26 0) scale(1.070 1)" font-size="11.60">0</text><text transform="translate(406.20 186.89) translate(-10.35 0) scale(1.070 1)" font-size="11.60">.</text><text transform="translate(406.20 186.89) translate(-6.90 0) scale(1.070 1)" font-size="11.60">2</text></g>
<line x1="412.0" y1="151.6" x2="416.8" y2="151.6" stroke="#000" stroke-width="2.0"/>
<g><text transform="translate(406.20 155.53) translate(-17.26 0) scale(1.070 1)" font-size="11.60">0</text><text transform="translate(406.20 155.53) translate(-10.35 0) scale(1.070 1)" font-size="11.60">.</text><text transform="translate(406.20 155.53) translate(-6.90 0) scale(1.070 1)" font-size="11.60">4</text></g>
<line x1="412.0" y1="120.3" x2="416.8" y2="120.3" stroke="#000" stroke-width="2.0"/>
<g><text transform="translate(406.20 124.17) translate(-17.26 0) scale(1.070 1)" font-size="11.60">0</text><text transform="translate(406.20 124.17) translate(-10.35 0) scale(1.070 1)" font-size="11.60">.</text><text transform="translate(406.20 124.17) translate(-6.90 0) scale(1.070 1)" font-size="11.60">6</text></g>
<line x1="412.0" y1="88.9" x2="416.8" y2="88.9" stroke="#000" stroke-width="2.0"/>
<g><text transform="translate(406.20 92.81) translate(-17.26 0) scale(1.070 1)" font-size="11.60">0</text><text transform="translate(406.20 92.81) translate(-10.35 0) scale(1.070 1)" font-size="11.60">.</text><text transform="translate(406.20 92.81) translate(-6.90 0) scale(1.070 1)" font-size="11.60">8</text></g>
<line x1="412.0" y1="57.5" x2="416.8" y2="57.5" stroke="#000" stroke-width="2.0"/>
<g><text transform="translate(406.20 61.45) translate(-17.26 0) scale(1.070 1)" font-size="11.60">1</text><text transform="translate(406.20 61.45) translate(-10.35 0) scale(1.070 1)" font-size="11.60">.</text><text transform="translate(406.20 61.45) translate(-6.90 0) scale(1.070 1)" font-size="11.60">0</text></g>
<line x1="412.0" y1="26.2" x2="416.8" y2="26.2" stroke="#000" stroke-width="2.0"/>
<g><text transform="translate(406.20 30.09) translate(-17.26 0) scale(1.070 1)" font-size="11.60">1</text><text transform="translate(406.20 30.09) translate(-10.35 0) scale(1.070 1)" font-size="11.60">.</text><text transform="translate(406.20 30.09) translate(-6.90 0) scale(1.070 1)" font-size="11.60">2</text></g>
<line x1="420.5" y1="221.7" x2="420.5" y2="226.5" stroke="#000" stroke-width="2.0"/>
<g><text transform="translate(420.50 240.00) translate(-8.63 0) scale(1.070 1)" font-size="11.60">0</text><text transform="translate(420.50 240.00) translate(-1.72 0) scale(1.070 1)" font-size="11.60">.</text><text transform="translate(420.50 240.00) translate(1.72 0) scale(1.070 1)" font-size="11.60">0</text></g>
<line x1="477.3" y1="221.7" x2="477.3" y2="226.5" stroke="#000" stroke-width="2.0"/>
<g><text transform="translate(477.28 240.00) translate(-8.63 0) scale(1.070 1)" font-size="11.60">0</text><text transform="translate(477.28 240.00) translate(-1.72 0) scale(1.070 1)" font-size="11.60">.</text><text transform="translate(477.28 240.00) translate(1.72 0) scale(1.070 1)" font-size="11.60">2</text></g>
<line x1="534.1" y1="221.7" x2="534.1" y2="226.5" stroke="#000" stroke-width="2.0"/>
<g><text transform="translate(534.06 240.00) translate(-8.63 0) scale(1.070 1)" font-size="11.60">0</text><text transform="translate(534.06 240.00) translate(-1.72 0) scale(1.070 1)" font-size="11.60">.</text><text transform="translate(534.06 240.00) translate(1.72 0) scale(1.070 1)" font-size="11.60">4</text></g>
<line x1="590.8" y1="221.7" x2="590.8" y2="226.5" stroke="#000" stroke-width="2.0"/>
<g><text transform="translate(590.84 240.00) translate(-8.63 0) scale(1.070 1)" font-size="11.60">0</text><text transform="translate(590.84 240.00) translate(-1.72 0) scale(1.070 1)" font-size="11.60">.</text><text transform="translate(590.84 240.00) translate(1.72 0) scale(1.070 1)" font-size="11.60">6</text></g>
<line x1="647.6" y1="221.7" x2="647.6" y2="226.5" stroke="#000" stroke-width="2.0"/>
<g><text transform="translate(647.62 240.00) translate(-8.63 0) scale(1.070 1)" font-size="11.60">0</text><text transform="translate(647.62 240.00) translate(-1.72 0) scale(1.070 1)" font-size="11.60">.</text><text transform="translate(647.62 240.00) translate(1.72 0) scale(1.070 1)" font-size="11.60">8</text></g>
<line x1="704.4" y1="221.7" x2="704.4" y2="226.5" stroke="#000" stroke-width="2.0"/>
<g><text transform="translate(704.40 240.00) translate(-8.63 0) scale(1.070 1)" font-size="11.60">1</text><text transform="translate(704.40 240.00) translate(-1.72 0) scale(1.070 1)" font-size="11.60">.</text><text transform="translate(704.40 240.00) translate(1.72 0) scale(1.070 1)" font-size="11.60">0</text></g>
<g><text transform="translate(194.30 255.60) translate(-78.17 0) scale(0.900 1)" font-size="11.60">R</text><text transform="translate(194.30 255.60) translate(-70.63 0) scale(1.031 1)" font-size="11.60">a</text><text transform="translate(194.30 255.60) translate(-64.22 0) scale(1.068 1)" font-size="11.60">d</text><text transform="translate(194.30 255.60) translate(-57.33 0) scale(1.170 1)" font-size="11.60">i</text><text transform="translate(194.30 255.60) translate(-54.32 0) scale(1.031 1)" font-size="11.60">a</text><text transform="translate(194.30 255.60) translate(-47.67 0) scale(1.170 1)" font-size="11.60">l</text><text transform="translate(194.30 255.60) translate(-41.21 0) scale(1.068 1)" font-size="11.60">d</text><text transform="translate(194.30 255.60) translate(-34.32 0) scale(1.170 1)" font-size="11.60">i</text><text transform="translate(194.30 255.60) translate(-31.31 0) scale(0.975 1)" font-size="11.60">s</text><text transform="translate(194.30 255.60) translate(-25.65 0) scale(1.250 1)" font-size="11.60">t</text><text transform="translate(194.30 255.60) translate(-21.40 0) scale(1.031 1)" font-size="11.60">a</text><text transform="translate(194.30 255.60) translate(-14.75 0) scale(1.066 1)" font-size="11.60">n</text><text transform="translate(194.30 255.60) translate(-7.87 0) scale(1.029 1)" font-size="11.60">c</text><text transform="translate(194.30 255.60) translate(-1.91 0) scale(1.035 1)" font-size="11.60">e</text><text transform="translate(194.30 255.60) translate(8.22 0) scale(1.096 1)" font-size="11.60">(</text><text transform="translate(194.30 255.60) translate(12.45 0) scale(0.969 1)" font-size="11.60">N</text><text transform="translate(194.30 255.60) translate(20.57 0) scale(1.029 1)" font-size="11.60">o</text><text transform="translate(194.30 255.60) translate(27.20 0) scale(1.155 1)" font-size="11.60">r</text><text transform="translate(194.30 255.60) translate(31.67 0) scale(1.094 1)" font-size="11.60">m</text><text transform="translate(194.30 255.60) translate(42.04 0) scale(1.031 1)" font-size="11.60">a</text><text transform="translate(194.30 255.60) translate(48.69 0) scale(1.170 1)" font-size="11.60">l</text><text transform="translate(194.30 255.60) translate(51.71 0) scale(1.170 1)" font-size="11.60">i</text><text transform="translate(194.30 255.60) translate(54.72 0) scale(0.975 1)" font-size="11.60">s</text><text transform="translate(194.30 255.60) translate(60.37 0) scale(1.035 1)" font-size="11.60">e</text><text transform="translate(194.30 255.60) translate(67.05 0) scale(1.068 1)" font-size="11.60">d</text><text transform="translate(194.30 255.60) translate(73.94 0) scale(1.096 1)" font-size="11.60">)</text></g>
<g><text transform="translate(567.40 255.60) translate(-78.17 0) scale(0.900 1)" font-size="11.60">R</text><text transform="translate(567.40 255.60) translate(-70.63 0) scale(1.031 1)" font-size="11.60">a</text><text transform="translate(567.40 255.60) translate(-64.22 0) scale(1.068 1)" font-size="11.60">d</text><text transform="translate(567.40 255.60) translate(-57.33 0) scale(1.170 1)" font-size="11.60">i</text><text transform="translate(567.40 255.60) translate(-54.32 0) scale(1.031 1)" font-size="11.60">a</text><text transform="translate(567.40 255.60) translate(-47.67 0) scale(1.170 1)" font-size="11.60">l</text><text transform="translate(567.40 255.60) translate(-41.21 0) scale(1.068 1)" font-size="11.60">d</text><text transform="translate(567.40 255.60) translate(-34.32 0) scale(1.170 1)" font-size="11.60">i</text><text transform="translate(567.40 255.60) translate(-31.31 0) scale(0.975 1)" font-size="11.60">s</text><text transform="translate(567.40 255.60) translate(-25.65 0) scale(1.250 1)" font-size="11.60">t</text><text transform="translate(567.40 255.60) translate(-21.40 0) scale(1.031 1)" font-size="11.60">a</text><text transform="translate(567.40 255.60) translate(-14.75 0) scale(1.066 1)" font-size="11.60">n</text><text transform="translate(567.40 255.60) translate(-7.87 0) scale(1.029 1)" font-size="11.60">c</text><text transform="translate(567.40 255.60) translate(-1.91 0) scale(1.035 1)" font-size="11.60">e</text><text transform="translate(567.40 255.60) translate(8.22 0) scale(1.096 1)" font-size="11.60">(</text><text transform="translate(567.40 255.60) translate(12.45 0) scale(0.969 1)" font-size="11.60">N</text><text transform="translate(567.40 255.60) translate(20.57 0) scale(1.029 1)" font-size="11.60">o</text><text transform="translate(567.40 255.60) translate(27.20 0) scale(1.155 1)" font-size="11.60">r</text><text transform="translate(567.40 255.60) translate(31.67 0) scale(1.094 1)" font-size="11.60">m</text><text transform="translate(567.40 255.60) translate(42.04 0) scale(1.031 1)" font-size="11.60">a</text><text transform="translate(567.40 255.60) translate(48.69 0) scale(1.170 1)" font-size="11.60">l</text><text transform="translate(567.40 255.60) translate(51.71 0) scale(1.170 1)" font-size="11.60">i</text><text transform="translate(567.40 255.60) translate(54.72 0) scale(0.975 1)" font-size="11.60">s</text><text transform="translate(567.40 255.60) translate(60.37 0) scale(1.035 1)" font-size="11.60">e</text><text transform="translate(567.40 255.60) translate(67.05 0) scale(1.068 1)" font-size="11.60">d</text><text transform="translate(567.40 255.60) translate(73.94 0) scale(1.096 1)" font-size="11.60">)</text></g>
<g><text transform="translate(9.00 110.90) rotate(-90) translate(-101.72 0) scale(0.890 1)" font-size="11.60">S</text><text transform="translate(9.00 110.90) rotate(-90) translate(-94.83 0) scale(0.881 1)" font-size="11.60">F</text><text transform="translate(9.00 110.90) rotate(-90) translate(-88.59 0) scale(0.900 1)" font-size="11.60">R</text><text transform="translate(9.00 110.90) rotate(-90) translate(-81.05 0) scale(0.890 1)" font-size="11.60">S</text><text transform="translate(9.00 110.90) rotate(-90) translate(-74.16 0) scale(0.997 1)" font-size="11.60">D</text><text transform="translate(9.00 110.90) rotate(-90) translate(-62.36 0) scale(1.185 1)" font-size="11.60">f</text><text transform="translate(9.00 110.90) rotate(-90) translate(-58.54 0) scale(1.155 1)" font-size="11.60">r</text><text transform="translate(9.00 110.90) rotate(-90) translate(-54.08 0) scale(1.029 1)" font-size="11.60">o</text><text transform="translate(9.00 110.90) rotate(-90) translate(-47.68 0) scale(1.094 1)" font-size="11.60">m</text><text transform="translate(9.00 110.90) rotate(-90) translate(-33.66 0) scale(0.881 1)" font-size="11.60">F</text><text transform="translate(9.00 110.90) rotate(-90) translate(-27.42 0) scale(0.948 1)" font-size="11.60">U</text><text transform="translate(9.00 110.90) rotate(-90) translate(-19.48 0) scale(0.959 1)" font-size="11.60">V</text><text transform="translate(9.00 110.90) rotate(-90) translate(-12.06 0) scale(1.250 1)" font-size="11.60">+</text><text transform="translate(9.00 110.90) rotate(-90) translate(-2.96 0) scale(1.070 1)" font-size="11.60">2</text><text transform="translate(9.00 110.90) rotate(-90) translate(3.94 0) scale(1.070 1)" font-size="11.60">4</text><text transform="translate(9.00 110.90) rotate(-90) translate(10.84 0) scale(1.086 1)" font-size="11.60" font-style="italic">μ</text><text transform="translate(9.00 110.90) rotate(-90) translate(17.75 0) scale(1.094 1)" font-size="11.60">m</text><text transform="translate(9.00 110.90) rotate(-90) translate(31.76 0) scale(1.096 1)" font-size="11.60">(</text><text transform="translate(9.00 110.90) rotate(-90) translate(36.00 0) scale(0.969 1)" font-size="11.60">N</text><text transform="translate(9.00 110.90) rotate(-90) translate(44.11 0) scale(1.029 1)" font-size="11.60">o</text><text transform="translate(9.00 110.90) rotate(-90) translate(50.75 0) scale(1.155 1)" font-size="11.60">r</text><text transform="translate(9.00 110.90) rotate(-90) translate(55.21 0) scale(1.094 1)" font-size="11.60">m</text><text transform="translate(9.00 110.90) rotate(-90) translate(65.59 0) scale(1.031 1)" font-size="11.60">a</text><text transform="translate(9.00 110.90) rotate(-90) translate(72.24 0) scale(1.170 1)" font-size="11.60">l</text><text transform="translate(9.00 110.90) rotate(-90) translate(75.25 0) scale(1.170 1)" font-size="11.60">i</text><text transform="translate(9.00 110.90) rotate(-90) translate(78.27 0) scale(0.975 1)" font-size="11.60">s</text><text transform="translate(9.00 110.90) rotate(-90) translate(83.92 0) scale(1.035 1)" font-size="11.60">e</text><text transform="translate(9.00 110.90) rotate(-90) translate(90.60 0) scale(1.068 1)" font-size="11.60">d</text><text transform="translate(9.00 110.90) rotate(-90) translate(97.48 0) scale(1.096 1)" font-size="11.60">)</text></g>
<g><text transform="translate(381.40 111.60) rotate(-90) translate(-100.60 0) scale(0.890 1)" font-size="11.60">S</text><text transform="translate(381.40 111.60) rotate(-90) translate(-93.71 0) scale(0.881 1)" font-size="11.60">F</text><text transform="translate(381.40 111.60) rotate(-90) translate(-87.47 0) scale(0.900 1)" font-size="11.60">R</text><text transform="translate(381.40 111.60) rotate(-90) translate(-79.93 0) scale(0.890 1)" font-size="11.60">S</text><text transform="translate(381.40 111.60) rotate(-90) translate(-73.04 0) scale(0.997 1)" font-size="11.60">D</text><text transform="translate(381.40 111.60) rotate(-90) translate(-61.24 0) scale(1.066 1)" font-size="11.60">u</text><text transform="translate(381.40 111.60) rotate(-90) translate(-54.36 0) scale(0.975 1)" font-size="11.60">s</text><text transform="translate(381.40 111.60) rotate(-90) translate(-48.71 0) scale(1.170 1)" font-size="11.60">i</text><text transform="translate(381.40 111.60) rotate(-90) translate(-45.70 0) scale(1.066 1)" font-size="11.60">n</text><text transform="translate(381.40 111.60) rotate(-90) translate(-38.82 0) scale(1.068 1)" font-size="11.60">g</text><text transform="translate(381.40 111.60) rotate(-90) translate(-28.48 0) scale(0.974 1)" font-size="11.60">H</text><text transform="translate(381.40 111.60) rotate(-90) translate(-20.33 0) scale(1.081 1)" font-size="11.60" font-style="italic">α</text><text transform="translate(381.40 111.60) rotate(-90) translate(-13.17 0) scale(1.250 1)" font-size="11.60">+</text><text transform="translate(381.40 111.60) rotate(-90) translate(-4.08 0) scale(1.070 1)" font-size="11.60">2</text><text transform="translate(381.40 111.60) rotate(-90) translate(2.82 0) scale(1.070 1)" font-size="11.60">4</text><text transform="translate(381.40 111.60) rotate(-90) translate(9.72 0) scale(1.086 1)" font-size="11.60" font-style="italic">μ</text><text transform="translate(381.40 111.60) rotate(-90) translate(16.63 0) scale(1.094 1)" font-size="11.60">m</text><text transform="translate(381.40 111.60) rotate(-90) translate(30.65 0) scale(1.096 1)" font-size="11.60">(</text><text transform="translate(381.40 111.60) rotate(-90) translate(34.88 0) scale(0.969 1)" font-size="11.60">N</text><text transform="translate(381.40 111.60) rotate(-90) translate(42.99 0) scale(1.029 1)" font-size="11.60">o</text><text transform="translate(381.40 111.60) rotate(-90) translate(49.63 0) scale(1.155 1)" font-size="11.60">r</text><text transform="translate(381.40 111.60) rotate(-90) translate(54.09 0) scale(1.094 1)" font-size="11.60">m</text><text transform="translate(381.40 111.60) rotate(-90) translate(64.47 0) scale(1.031 1)" font-size="11.60">a</text><text transform="translate(381.40 111.60) rotate(-90) translate(71.12 0) scale(1.170 1)" font-size="11.60">l</text><text transform="translate(381.40 111.60) rotate(-90) translate(74.14 0) scale(1.170 1)" font-size="11.60">i</text><text transform="translate(381.40 111.60) rotate(-90) translate(77.15 0) scale(0.975 1)" font-size="11.60">s</text><text transform="translate(381.40 111.60) rotate(-90) translate(82.80 0) scale(1.035 1)" font-size="11.60">e</text><text transform="translate(381.40 111.60) rotate(-90) translate(89.48 0) scale(1.068 1)" font-size="11.60">d</text><text transform="translate(381.40 111.60) rotate(-90) translate(96.37 0) scale(1.096 1)" font-size="11.60">)</text></g>
</svg>
</body></html>
